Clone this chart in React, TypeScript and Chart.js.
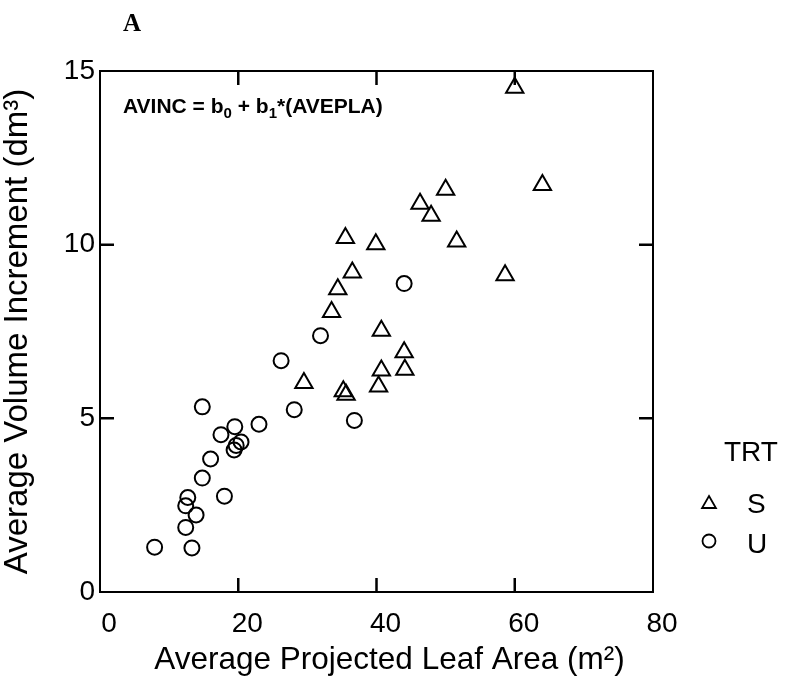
import React, { useEffect, useRef } from "react";
import { Chart, registerables } from "chart.js";

Chart.register(...registerables);

// Treatment S (triangles)
const sX = [60.0, 64.0, 50.0, 46.3, 47.9, 51.6, 35.5, 39.9, 58.6, 36.5, 34.4, 33.5, 40.7, 44.0, 40.7, 44.1, 29.5, 40.3, 35.2, 35.6];
const sY = [14.52, 11.72, 11.58, 11.18, 10.83, 10.09, 10.19, 10.01, 9.12, 9.2, 8.72, 8.06, 7.52, 6.9, 6.38, 6.4, 6.02, 5.92, 5.78, 5.68];
// Treatment U (circles)
const uX = [44.0, 31.9, 26.2, 28.1, 36.8, 14.8, 23.0, 19.5, 17.5, 20.4, 19.7, 19.4, 16.0, 14.8, 18.0, 12.7, 12.4, 13.9, 12.4, 7.9, 13.3];
const uY = [8.88, 7.38, 6.66, 5.25, 4.94, 5.33, 4.83, 4.76, 4.53, 4.32, 4.22, 4.09, 3.83, 3.28, 2.76, 2.72, 2.48, 2.22, 1.86, 1.29, 1.27];

const xMin = 0, xMax = 80, xStep = 20;
const yMin = 0, yMax = 15, yStep = 5;
const xInnerTicks = [20, 40, 60];
const yInnerTicks = [5, 10];

const xTitle = "Average Projected Leaf Area (m²)";
const yTitle = "Average Volume Increment (dm³)";
const legendTitle = "TRT";
const seriesNames = ["S", "U"];
const panelLabel = "A";

const FONT = "'Liberation Sans', Arial, Helvetica, sans-serif";

const framePlugin = {
  id: "frameTicks",
  afterDraw(chart: any) {
    const { ctx, chartArea: a, scales } = chart;
    const xs = scales.x, ys = scales.y;
    ctx.save();
    ctx.strokeStyle = "#000";
    ctx.lineWidth = 2;
    ctx.strokeRect(a.left, a.top, a.right - a.left, a.bottom - a.top);
    ctx.lineWidth = 2.5;
    const L = 14;
    ctx.beginPath();
    for (const v of xInnerTicks) {
      const px = xs.getPixelForValue(v);
      ctx.moveTo(px, a.bottom);
      ctx.lineTo(px, a.bottom - L);
      ctx.moveTo(px, a.top);
      ctx.lineTo(px, a.top + L);
    }
    for (const v of yInnerTicks) {
      const py = ys.getPixelForValue(v);
      ctx.moveTo(a.left, py);
      ctx.lineTo(a.left + L, py);
      ctx.moveTo(a.right, py);
      ctx.lineTo(a.right - L, py);
    }
    ctx.stroke();

    // equation annotation
    let x = a.left + 23;
    const base = a.top + 42;
    ctx.fillStyle = "#000";
    ctx.textBaseline = "alphabetic";
    ctx.textAlign = "left";
    const big = `bold 21px ${FONT}`;
    const small = `bold 15px ${FONT}`;
    const pieces: [string, string, number][] = [
      ["AVINC = b", big, 0],
      ["0", small, 5],
      [" + b", big, 0],
      ["1", small, 5],
      ["*(AVEPLA)", big, 0],
    ];
    for (const [t, f, dy] of pieces) {
      ctx.font = f;
      ctx.fillText(t, x, base + dy);
      x += ctx.measureText(t).width;
    }

    // panel label
    ctx.font = "bold 25px 'Liberation Serif', 'Times New Roman', serif";
    ctx.fillText(panelLabel, 123, 31);

    // x-axis title (slightly right of the plot centre, as in the original)
    ctx.font = `31.5px ${FONT}`;
    ctx.textAlign = "center";
    ctx.textBaseline = "middle";
    ctx.fillText(xTitle, (a.left + a.right) / 2 + 13, 660);

    // legend
    ctx.textAlign = "left";
    ctx.font = `28px ${FONT}`;
    ctx.fillText(legendTitle, 724, 453);
    ctx.fillText(seriesNames[0], 747, 505);
    ctx.fillText(seriesNames[1], 747, 545);
    ctx.lineWidth = 1.8;
    // triangle marker
    const tr = 8, tx = 709, ty = 504;
    ctx.beginPath();
    for (let i = 0; i < 3; i++) {
      const ang = (i * 2 * Math.PI) / 3;
      const px = tx + Math.sin(ang) * tr;
      const py = ty - Math.cos(ang) * tr;
      if (i === 0) ctx.moveTo(px, py); else ctx.lineTo(px, py);
    }
    ctx.closePath();
    ctx.stroke();
    ctx.beginPath();
    ctx.arc(709, 541, 6.5, 0, Math.PI * 2);
    ctx.stroke();
    ctx.restore();
  },
};

export default function App() {
  const ref = useRef<HTMLCanvasElement | null>(null);
  useEffect(() => {
    if (!ref.current) return;
    const chart = new Chart(ref.current, {
      type: "scatter",
      data: {
        datasets: [
          {
            label: seriesNames[0],
            data: sX.map((x, i) => ({ x, y: sY[i] })),
            pointStyle: "triangle",
            pointRadius: 10,
            borderColor: "#000",
            backgroundColor: "rgba(0,0,0,0)",
            borderWidth: 2,
          },
          {
            label: seriesNames[1],
            data: uX.map((x, i) => ({ x, y: uY[i] })),
            pointStyle: "circle",
            pointRadius: 7.5,
            borderColor: "#000",
            backgroundColor: "rgba(0,0,0,0)",
            borderWidth: 2,
          },
        ],
      },
      options: {
        animation: false,
        responsive: false,
        maintainAspectRatio: false,
        layout: { padding: { top: 71, right: 134, left: 0, bottom: 0 } },
        plugins: { legend: { display: false }, tooltip: { enabled: false } },
        scales: {
          x: {
            type: "linear",
            min: xMin,
            max: xMax,
            grid: { display: false, drawTicks: false },
            border: { display: false },
            afterFit: (s: any) => { s.height = 89; },
            ticks: {
              stepSize: xStep,
              color: "#000",
              padding: 15,
              labelOffset: 9,
              font: { family: FONT, size: 28 },
            },
            title: { display: false },
          },
          y: {
            type: "linear",
            min: yMin,
            max: yMax,
            grid: { display: false, drawTicks: false },
            border: { display: false },
            afterFit: (s: any) => { s.width = 100; },
            ticks: {
              stepSize: yStep,
              color: "#000",
              padding: 5,
              font: { family: FONT, size: 28 },
            },
            title: {
              display: true,
              text: yTitle,
              color: "#000",
              font: { family: FONT, size: 33, lineHeight: 1 },
              padding: { top: 1, bottom: 0 },
            },
          },
        },
      },
      plugins: [framePlugin],
    });
    return () => chart.destroy();
  }, []);
  return (
    <div style={{ position: "absolute", left: 0, top: 0, width: 787, height: 681, background: "#fff" }}>
      <canvas ref={ref} width={787} height={681} style={{ display: "block" }} />
    </div>
  );
}
